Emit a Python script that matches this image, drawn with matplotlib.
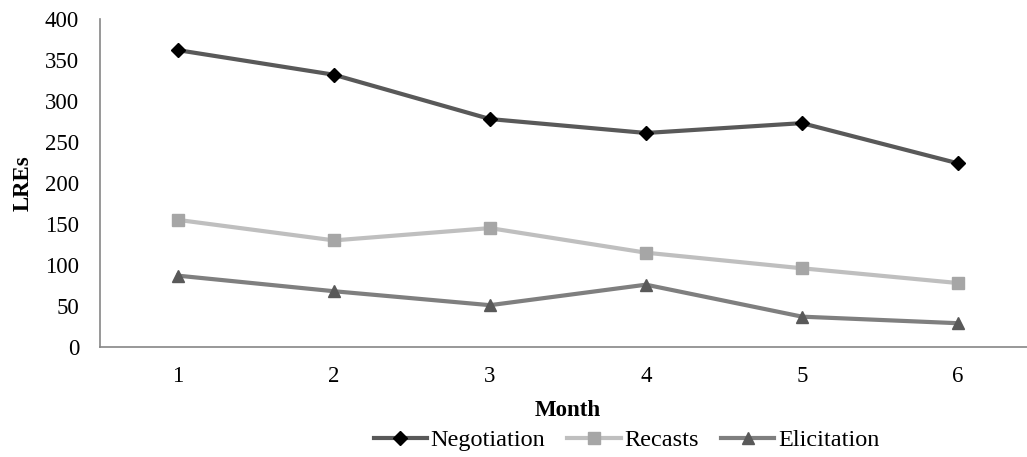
import matplotlib
matplotlib.use("Agg")
import matplotlib.pyplot as plt

months = [1, 2, 3, 4, 5, 6]
negotiation = [362, 332, 278, 261, 273, 224]
recasts = [155, 130, 145, 115, 96, 78]
elicitation = [87, 68, 51, 76, 37, 29]

plt.rcParams['font.family'] = ['Liberation Serif', 'DejaVu Serif']

fig = plt.figure(figsize=(10.27, 4.57), dpi=100)
# right edge of the axis runs past the picture in the original
ax = fig.add_axes([100/1027, 1 - 347/457, 936/1027, 328/457])

ax.plot(months, negotiation, color='#595959', lw=3, marker='D', ms=7,
        mfc='black', mec='black', label='Negotiation')
ax.plot(months, recasts, color='#bfbfbf', lw=3, marker='s', ms=8,
        mfc='#a6a6a6', mec='#a6a6a6', label='Recasts')
ax.plot(months, elicitation, color='#7f7f7f', lw=3, marker='^', ms=9,
        mfc='#595959', mec='#595959', label='Elicitation')

ax.set_xlim(0.5, 6.5)
ax.set_ylim(0, 400)
ax.set_yticks(range(0, 401, 50))
ax.set_xticks(months)
ax.tick_params(length=0, labelsize=16.5)
ax.tick_params(axis='x', pad=14)
ax.tick_params(axis='y', pad=15)
for s in ['top', 'right']:
    ax.spines[s].set_visible(False)
for s in ['left', 'bottom']:
    ax.spines[s].set_color('#868686')
    ax.spines[s].set_linewidth(1.2)

ax.set_xlabel('Month', fontsize=16.5, fontweight='bold', labelpad=9)
ax.set_ylabel('LREs', fontsize=16.5, fontweight='bold', labelpad=8)

fig.legend(loc='center', bbox_to_anchor=(0.61, 1 - 440/457), ncol=3, frameon=False,
           fontsize=17.5, handlelength=2.2, columnspacing=0.9, handletextpad=0.15)

fig.savefig('out.png', dpi=100)
